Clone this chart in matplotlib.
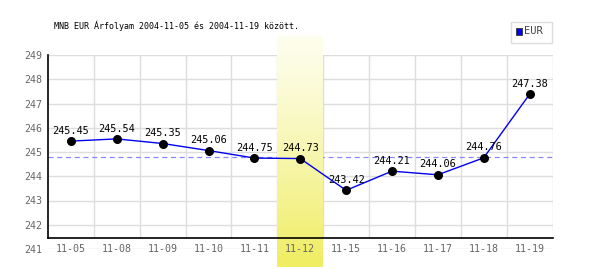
import numpy as np
import matplotlib.pyplot as plt

dates = ['11-05', '11-08', '11-09', '11-10', '11-11', '11-12',
         '11-15', '11-16', '11-17', '11-18', '11-19']
rates = [245.45, 245.54, 245.35, 245.06, 244.75, 244.73,
         243.42, 244.21, 244.06, 244.76, 247.38]
ref_level = 244.79
highlight = '11-12'
title = 'MNB EUR Árfolyam 2004-11-05 és 2004-11-19 között.'

mono = 'DejaVu Sans Mono'
x = np.arange(len(dates))

fig = plt.figure(figsize=(6, 2.7), dpi=100)
ax = fig.add_axes([48 / 600, 1 - 249 / 270, 504.5 / 600, 194 / 270])
for s in ax.spines.values():
    s.set_visible(False)
ax.set_xticks([])
ax.set_yticks(range(241, 250))
ax.set_yticklabels([str(v) for v in range(241, 250)], family=mono, fontsize=7.2, color='#666666')
ax.tick_params(axis='y', length=0, pad=4)

y_axis = 241.47
grid_c = '#dddddd'
ax.hlines(range(241, 250), -0.5, len(dates) - 0.5, color=grid_c, lw=1, zorder=0)
ax.vlines(np.arange(0.5, len(dates)), y_axis, 249, color=grid_c, lw=1, zorder=0)
ax.axhline(ref_level, color='#8888ff', lw=0.9, ls=(0, (4, 3)), zorder=1)

# highlighted day
hi = dates.index(highlight)
grad = np.linspace(0, 1, 100).reshape(-1, 1)
top = np.array([0.995, 0.995, 0.93])
bot = np.array([0.94, 0.93, 0.38])
img = top + (bot - top) * grad[:, :, None] ** 1.2
ax.imshow(img, extent=(hi - 0.5, hi + 0.5, 240.25, 249.74), aspect='auto',
          zorder=1.5, clip_on=False, interpolation='bilinear')

ax.plot([-0.5, -0.5], [y_axis, 249], color='black', lw=1.2, zorder=2, clip_on=False)
ax.plot([-0.5, len(dates) - 0.5], [y_axis, y_axis], color='black', lw=1.2, zorder=2, clip_on=False)

ax.plot(x, rates, color='#0000ee', lw=1, zorder=3)
ax.scatter(x, rates, s=30, color='black', zorder=4)
for xi, v in zip(x, rates):
    ax.text(xi, v + 0.22, f'{v:.2f}', ha='center', va='bottom', family=mono,
            fontsize=7.4, color='black', zorder=5)

for xi, d in zip(x, dates):
    ax.text(xi, 241.0, d, ha='center', va='center', family=mono, fontsize=7.2,
            color='#666666', zorder=5)

ax.set_xlim(-0.5, len(dates) - 0.5)
ax.set_ylim(241, 249)

fig.text(54 / 600, 1 - 26 / 270, title, family=mono, fontsize=6.0,
         color='black', ha='left', va='center')

# legend box
fig.patches.append(plt.Rectangle((511 / 600, 1 - 43 / 270), 41 / 600, 21 / 270,
                                 transform=fig.transFigure, fill=False,
                                 edgecolor='#dddddd', lw=1))
fig.patches.append(plt.Rectangle((516 / 600, 1 - 34.5 / 270), 6 / 600, 6 / 270,
                                 transform=fig.transFigure, facecolor='#0000ee',
                                 edgecolor='#333333', lw=0.6))
fig.text(524 / 600, 1 - 31.5 / 270, 'EUR', family=mono, fontsize=7.5,
         color='#444444', ha='left', va='center')

fig.savefig('out.png', dpi=100)
